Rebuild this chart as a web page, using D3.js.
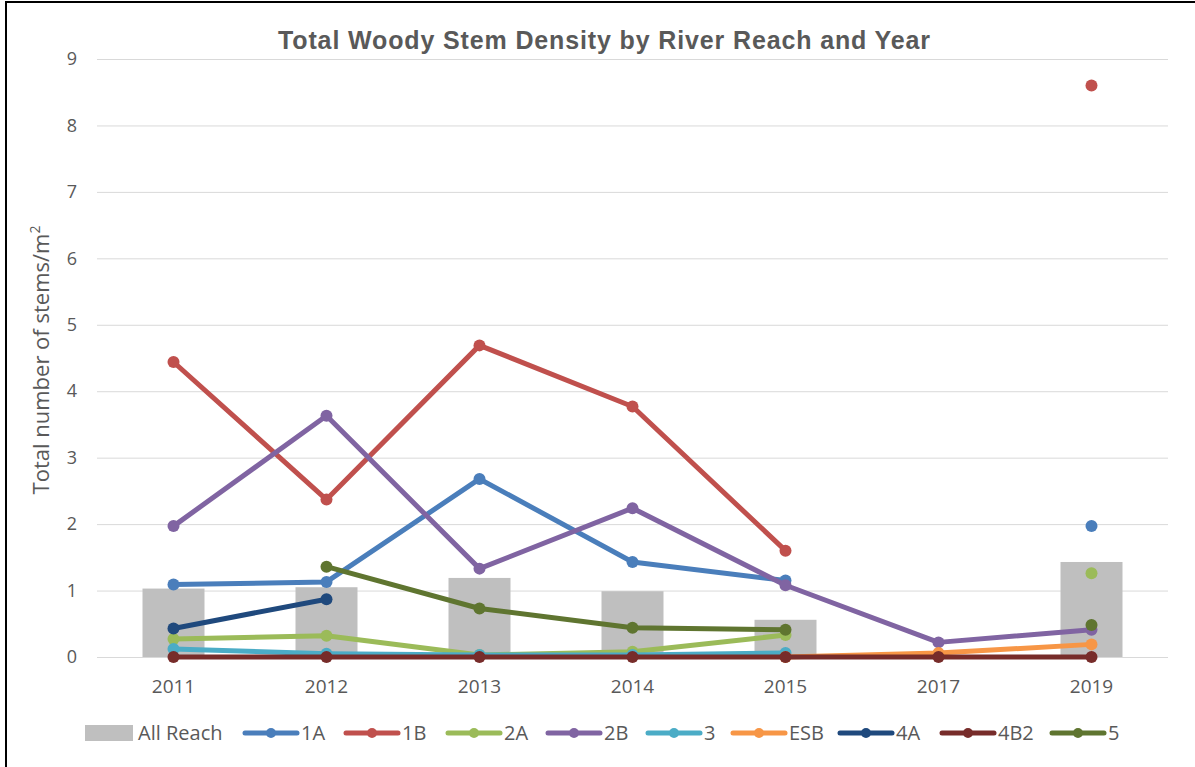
<!DOCTYPE html>
<html>
<head>
<meta charset="utf-8">
<script src="https://cdn.jsdelivr.net/npm/d3@7"></script>
<style>
  body { margin: 0; background: #fff; }
  text { font-family: "Open Sans", sans-serif; fill: #595959; }
</style>
</head>
<body>
<div id="chart"></div>
<script>
// data
const years = ["2011", "2012", "2013", "2014", "2015", "2017", "2019"];
const allReach = [1.03, 1.05, 1.19, 0.99, 0.56, 0, 1.43];
const s1A  = [1.09, 1.13, 2.68, 1.43, 1.15, null, 1.97];
const s1B  = [4.44, 2.37, 4.69, 3.77, 1.60, null, 8.60];
const s2A  = [0.27, 0.32, 0.03, 0.08, 0.33, null, 1.26];
const s2B  = [1.97, 3.63, 1.33, 2.24, 1.08, 0.22, 0.41];
const s3   = [0.12, 0.05, 0.03, 0.03, 0.06, null, null];
const sESB = [null, null, null, null, 0.00, 0.06, 0.19];
const s4A  = [0.43, 0.87, null, null, null, null, null];
const s4B2 = [0, 0, 0, 0, 0, 0, 0];
const s5   = [null, 1.36, 0.73, 0.44, 0.41, null, 0.48];
const yTicks = [0, 1, 2, 3, 4, 5, 6, 7, 8, 9];

const seriesNames  = ["1A", "1B", "2A", "2B", "3", "ESB", "4A", "4B2", "5"];
const seriesValues = [s1A, s1B, s2A, s2B, s3, sESB, s4A, s4B2, s5];
const seriesColors = ["#4A7EBB", "#C0504D", "#9BBB59", "#8064A2", "#4BACC6", "#F79646", "#1F497D", "#772C2A", "#5F7530"];

const W = 1195, H = 767;
const margin = {top: 59, right: 27, bottom: 110, left: 97};
const width = W - margin.left - margin.right;
const height = H - margin.top - margin.bottom;

const svg = d3.select("#chart").append("svg")
  .attr("width", W)
  .attr("height", H);

// frame
svg.append("rect")
  .attr("x", 6).attr("y", 2)
  .attr("width", W + 10).attr("height", H + 10)
  .attr("fill", "none")
  .attr("stroke", "#000")
  .attr("stroke-width", 2);

const g = svg.append("g")
  .attr("transform", `translate(${margin.left},${margin.top})`);

const x = d3.scaleBand().domain(years).range([0, width]);
const y = d3.scaleLinear().domain([0, 9]).range([height, 0]);

// gridlines + y ticks
const yAxis = d3.axisLeft(y).tickValues(yTicks).tickSize(-width).tickPadding(20);
const yAxisG = g.append("g").call(yAxis);
yAxisG.select(".domain").remove();
yAxisG.selectAll(".tick line").attr("stroke", "#D9D9D9").attr("stroke-width", 1);
yAxisG.selectAll(".tick text")
  .attr("font-size", 18)
  .attr("font-family", "Open Sans, sans-serif")
  .attr("fill", "#595959");

const xAxis = d3.axisBottom(x).tickSize(0).tickPadding(23);
const xAxisG = g.append("g").attr("transform", `translate(0,${height})`).call(xAxis);
xAxisG.select(".domain").remove();
xAxisG.selectAll(".tick text")
  .attr("font-size", 19)
  .attr("font-family", "Open Sans, sans-serif")
  .attr("fill", "#595959");

// bars
const barW = 62;
g.selectAll(".bar")
  .data(years.map((yr, i) => ({yr, v: allReach[i]})))
  .join("rect")
  .attr("class", "bar")
  .attr("x", d => x(d.yr) + x.bandwidth() / 2 - barW / 2)
  .attr("y", d => y(d.v))
  .attr("width", barW)
  .attr("height", d => height - y(d.v))
  .attr("fill", "#BFBFBF");

// lines
const line = d3.line()
  .defined(d => d.v !== null)
  .x(d => x(d.yr) + x.bandwidth() / 2)
  .y(d => y(d.v));

seriesValues.forEach((vals, k) => {
  const pts = years.map((yr, i) => ({yr, v: vals[i]}));
  g.append("path")
    .datum(pts)
    .attr("d", line)
    .attr("fill", "none")
    .attr("stroke", seriesColors[k])
    .attr("stroke-width", 5)
    .attr("stroke-linejoin", "round")
    .attr("stroke-linecap", "round");
  g.selectAll(".pt" + k)
    .data(pts.filter(d => d.v !== null))
    .join("circle")
    .attr("cx", d => x(d.yr) + x.bandwidth() / 2)
    .attr("cy", d => y(d.v))
    .attr("r", 6)
    .attr("fill", seriesColors[k]);
});

// title
svg.append("text")
  .attr("x", 278).attr("y", 49)
  .attr("font-weight", "bold")
  .attr("font-size", 25)
  .attr("textLength", 652)
  .attr("lengthAdjust", "spacing")
  .style("font-family", "Liberation Sans, Arial, sans-serif")
  .text("Total Woody Stem Density by River Reach and Year");

// y label
const yl = svg.append("text")
  .attr("transform", `translate(49,${360}) rotate(-90)`)
  .attr("text-anchor", "middle")
  .attr("font-size", 22);
yl.append("tspan").text("Total number of stems/m");
yl.append("tspan").attr("font-size", 14).attr("dy", -9).text("2");

// legend
const legendX = [85, 245, 346, 448, 548, 648, 733, 840, 942, 1052];
const legY = 733;
const lg = svg.append("g");
lg.append("rect")
  .attr("x", legendX[0]).attr("y", legY - 8)
  .attr("width", 48).attr("height", 16)
  .attr("fill", "#BFBFBF");
lg.append("text")
  .attr("x", legendX[0] + 53).attr("y", legY + 7)
  .attr("font-size", 20)
  .text("All Reach");
seriesNames.forEach((name, i) => {
  const lx = legendX[i + 1];
  lg.append("line")
    .attr("x1", lx).attr("x2", lx + 52)
    .attr("y1", legY).attr("y2", legY)
    .attr("stroke", seriesColors[i])
    .attr("stroke-width", 5)
    .attr("stroke-linecap", "round");
  lg.append("circle")
    .attr("cx", lx + 26).attr("cy", legY)
    .attr("r", 5)
    .attr("fill", seriesColors[i]);
  lg.append("text")
    .attr("x", lx + 56).attr("y", legY + 7)
    .attr("font-size", 20)
    .text(name);
});
</script>
</body>
</html>
